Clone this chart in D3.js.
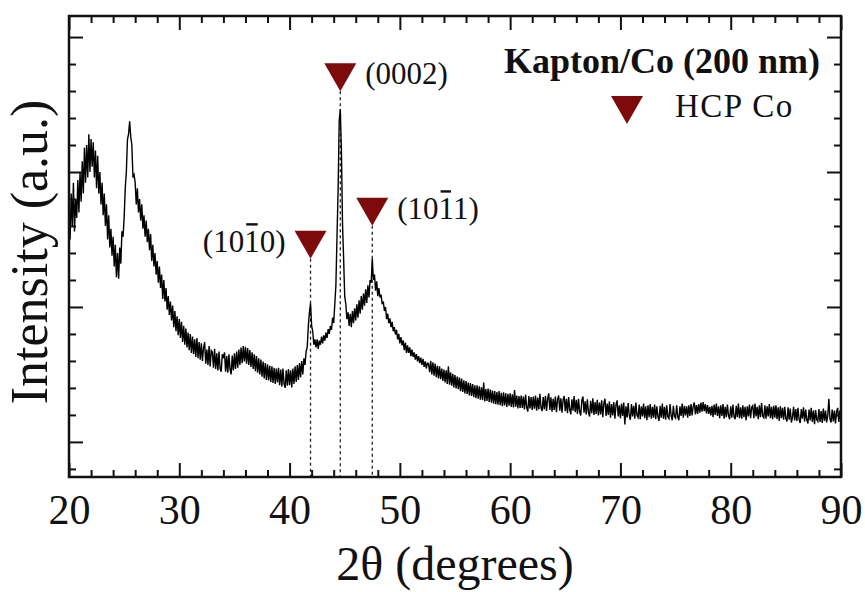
<!DOCTYPE html>
<html>
<head>
<meta charset="utf-8">
<script src="https://cdn.jsdelivr.net/npm/d3@7"></script>
<style>
  body { margin: 0; background: #fff; }
  svg { display: block; }
  text { font-family: "Liberation Serif", "Times New Roman", serif; fill: #111; }
</style>
</head>
<body>
<svg id="chart" width="865" height="592"></svg>
<script>
// XRD scan of Kapton/Co (200 nm): 2θ from 20° to 90° in 0.1° steps
const thetaStart = 20;
const thetaStep = 0.1;
const intensity = [
  1380, 1250, 1420, 1300, 1460, 1280, 1400, 1330, 1470, 1350,
  1500, 1390, 1540, 1420, 1590, 1460, 1600, 1480, 1640, 1500,
  1622, 1520, 1610, 1480, 1580, 1440, 1560, 1420, 1500, 1380,
  1460, 1340, 1420, 1300, 1380, 1250, 1340, 1220, 1290, 1190,
  1260, 1150, 1230, 1110, 1200, 1105, 1220, 1160, 1280, 1260,
  1330, 1440, 1500, 1620, 1640, 1688, 1630, 1600, 1480, 1490,
  1460, 1380, 1440, 1350, 1400, 1320, 1380, 1290, 1340, 1260,
  1320, 1240, 1290, 1210, 1270, 1170, 1230, 1150, 1200, 1120,
  1170, 1090, 1150, 1070, 1120, 1030, 1100, 1020, 1070, 990,
  1040, 970, 1020, 950, 1005, 925, 985, 910, 965, 895,
  955, 885, 945, 870, 930, 860, 920, 850, 905, 840,
  900, 830, 890, 825, 880, 815, 885, 810, 870, 805,
  865, 800, 848, 870, 790, 842, 785, 855, 780, 838,
  832, 775, 845, 770, 828, 765, 835, 772, 760, 825,
  810, 832, 760, 818, 756, 825, 770, 750, 820, 765,
  828, 770, 835, 775, 842, 785, 850, 792, 855, 798,
  852, 790, 848, 785, 840, 778, 832, 770, 825, 762,
  818, 756, 810, 750, 805, 742, 798, 735, 792, 730,
  788, 728, 782, 722, 780, 718, 775, 715, 772, 720,
  775, 710, 768, 705, 772, 715, 700, 765, 708, 770,
  710, 765, 702, 772, 715, 780, 722, 785, 730, 792,
  740, 800, 750, 810, 785, 835, 850, 930, 980, 1013,
  930, 910, 860, 880, 850, 880, 845, 875, 860, 890,
  865, 895, 875, 905, 885, 918, 900, 930, 915, 960,
  940, 1010, 1080, 1260, 1430, 1690, 1732, 1580, 1310, 1180,
  1040, 1010, 955, 980, 930, 975, 925, 985, 940, 995,
  950, 1010, 960, 1025, 975, 1040, 990, 1050, 1005, 1065,
  1015, 1080, 1035, 1100, 1090, 1179, 1100, 1120, 1060, 1095,
  1040, 1070, 1035, 1045, 1010, 1020, 985, 1000, 955, 975,
  940, 958, 925, 945, 910, 925, 898, 915, 880, 900,
  865, 888, 858, 876, 840, 868, 830, 858, 830, 850,
  818, 842, 815, 832, 805, 825, 798, 818, 792, 812,
  785, 808, 778, 798, 772, 792, 790, 758, 800, 750,
  795, 745, 790, 740, 782, 735, 780, 732, 772, 726,
  768, 720, 765, 715, 780, 712, 758, 708, 752, 702,
  748, 698, 742, 695, 738, 688, 735, 685, 728, 680,
  725, 678, 720, 672, 718, 670, 714, 666, 710, 662,
  710, 660, 706, 656, 702, 655, 720, 650, 696, 652,
  698, 648, 694, 645, 690, 642, 688, 640, 685, 638,
  688, 636, 682, 632, 684, 635, 680, 630, 678, 634,
  680, 630, 676, 628, 692, 630, 672, 624, 670, 626,
  672, 626, 668, 620, 675, 628, 612, 670, 624, 666,
  618, 668, 623, 672, 616, 664, 620, 678, 626, 614,
  666, 620, 670, 615, 660, 680, 618, 665, 612, 660,
  618, 668, 610, 658, 672, 616, 662, 608, 656, 670,
  614, 660, 606, 666, 620, 602, 658, 616, 670, 610,
  656, 604, 660, 612, 598, 654, 668, 608, 650, 602,
  658, 610, 594, 652, 606, 662, 600, 648, 604, 656,
  598, 646, 602, 654, 592, 644, 660, 596, 642, 600,
  650, 590, 640, 598, 648, 586, 638, 654, 594, 636,
  588, 642, 596, 646, 565, 632, 590, 644, 598, 582,
  640, 594, 634, 586, 646, 598, 590, 638, 584, 632,
  594, 642, 588, 632, 580, 636, 592, 640, 586, 630,
  590, 638, 584, 632, 594, 578, 634, 590, 642, 586,
  630, 582, 636, 592, 586, 640, 596, 580, 634, 594,
  588, 636, 592, 580, 632, 596, 642, 590, 634, 598,
  632, 590, 636, 596, 640, 598, 632, 646, 602, 636,
  604, 640, 608, 646, 612, 648, 614, 640, 606, 636,
  604, 630, 598, 634, 592, 638, 600, 642, 596, 632,
  588, 636, 596, 640, 586, 630, 592, 638, 598, 584,
  632, 590, 638, 594, 584, 634, 592, 642, 588, 628,
  586, 636, 592, 630, 580, 632, 594, 638, 588, 628,
  634, 588, 642, 594, 630, 584, 636, 592, 644, 596,
  590, 636, 586, 632, 594, 640, 588, 630, 584, 634,
  590, 636, 584, 628, 578, 632, 588, 626, 582, 630,
  586, 576, 628, 582, 624, 572, 590, 630, 580, 622,
  578, 626, 584, 570, 622, 586, 628, 576, 620, 582,
  568, 620, 580, 626, 574, 616, 566, 618, 582, 576,
  622, 574, 614, 570, 624, 578, 616, 572, 598, 660,
  584, 572, 620, 576, 616, 568, 612, 626, 574, 616,
  580
];

// Axis ticks
const xMajorTicks = [20, 30, 40, 50, 60, 70, 80, 90];
const xMinorTicks = [22, 24, 26, 28, 32, 34, 36, 38, 42, 44, 46, 48, 52, 54, 56, 58,
                     62, 64, 66, 68, 72, 74, 76, 78, 82, 84, 86, 88];
const yMajorTicks = [500, 1000, 1500, 2000];
const yMinorTicks = [400, 600, 700, 800, 900, 1100, 1200, 1300, 1400,
                     1600, 1700, 1800, 1900];

// HCP Co reflections: position, marker level, Miller–Bravais label
const peakTheta = [41.9, 44.6, 47.5];
const peakLevel = [1179, 1799, 1301];
const peakLabel = ["(1010)", "(0002)", "(1011)"];
const peakBarChar = [3, -1, 3];          // index of the character carrying the overbar
const peakLabelSide = ["left", "right", "right"];

const sampleTitle = "Kapton/Co (200 nm)";
const phaseName = "HCP Co";
const xTitle = "2θ (degrees)";
const yTitle = "Intensity (a.u.)";

const markerColor = "#7d0b0b";
const inkColor = "#111";

const svg = d3.select("#chart");
const plot = { left: 69, right: 841, top: 16, bottom: 477 };

const x = d3.scaleLinear().domain([20, 90]).range([plot.left, plot.right]);
const y = d3.scaleLinear().domain([370, 2078]).range([plot.bottom, plot.top]);

const peaks = peakTheta.map((t, i) => ({ t, level: peakLevel[i], label: peakLabel[i],
  bar: peakBarChar[i], side: peakLabelSide[i] }));

// Dashed guides from each marker down to the axis
svg.append("g").selectAll("line").data(peaks).join("line")
  .attr("x1", d => x(d.t)).attr("x2", d => x(d.t))
  .attr("y1", d => y(d.level)).attr("y2", plot.bottom)
  .attr("stroke", "#222").attr("stroke-width", 1.3)
  .attr("stroke-dasharray", "3,3");

// Diffraction pattern
const line = d3.line()
  .x((d, i) => x(thetaStart + i * thetaStep))
  .y(d => y(d));
svg.append("path").datum(intensity)
  .attr("d", line)
  .attr("fill", "none")
  .attr("stroke", "#000")
  .attr("stroke-width", 1.4)
  .attr("stroke-linejoin", "miter");

// Axes: ticks point inward on all four sides
function styleAxis(g) {
  g.select(".domain").remove();
  g.selectAll(".tick line").attr("stroke", inkColor).attr("stroke-width", 2);
}

svg.append("g").attr("transform", `translate(0,${plot.bottom})`)
  .call(d3.axisBottom(x).tickValues(xMinorTicks).tickSize(-7).tickFormat(""))
  .call(styleAxis);
const gxMajor = svg.append("g").attr("transform", `translate(0,${plot.bottom})`)
  .call(d3.axisBottom(x).tickValues(xMajorTicks).tickSize(-14).tickFormat(d3.format("d")))
  .call(styleAxis);
gxMajor.selectAll(".tick text")
  .attr("y", 47).attr("dy", 0)
  .attr("font-size", 42).attr("fill", inkColor)
  .attr("font-family", "'Liberation Serif', 'Times New Roman', serif");

svg.append("g").attr("transform", `translate(0,${plot.top})`)
  .call(d3.axisTop(x).tickValues(xMinorTicks).tickSize(-7).tickFormat(""))
  .call(styleAxis);
svg.append("g").attr("transform", `translate(0,${plot.top})`)
  .call(d3.axisTop(x).tickValues(xMajorTicks).tickSize(-14).tickFormat(""))
  .call(styleAxis);

[[d3.axisLeft, plot.left], [d3.axisRight, plot.right]].forEach(([axisFn, px]) => {
  svg.append("g").attr("transform", `translate(${px},0)`)
    .call(axisFn(y).tickValues(yMinorTicks).tickSize(-7).tickFormat(""))
    .call(styleAxis);
  svg.append("g").attr("transform", `translate(${px},0)`)
    .call(axisFn(y).tickValues(yMajorTicks).tickSize(-14).tickFormat(""))
    .call(styleAxis);
});

// Plot frame
svg.append("rect")
  .attr("x", plot.left).attr("y", plot.top)
  .attr("width", plot.right - plot.left).attr("height", plot.bottom - plot.top)
  .attr("fill", "none").attr("stroke", inkColor).attr("stroke-width", 2.5);

// Downward triangle with its tip at the origin
const triangle = "M-16,-28L16,-28L0,0Z";

svg.append("g").selectAll("path").data(peaks).join("path")
  .attr("d", triangle)
  .attr("transform", d => `translate(${x(d.t)},${y(d.level)})`)
  .attr("fill", markerColor);

// Reflection labels, with an overbar on the negative index
const labelSize = 31;
peaks.forEach(d => {
  const px = x(d.t), py = y(d.level) - 7;
  const t = svg.append("text")
    .attr("x", d.side === "left" ? px - 25 : px + 25)
    .attr("y", py)
    .attr("text-anchor", d.side === "left" ? "end" : "start")
    .attr("font-size", labelSize)
    .text(d.label);
  if (d.bar >= 0) {
    const node = t.node();
    const start = node.getStartPositionOfChar(d.bar);
    const end = node.getEndPositionOfChar(d.bar);
    svg.append("line")
      .attr("x1", start.x + 2).attr("x2", end.x - 2)
      .attr("y1", py - labelSize * 0.88).attr("y2", py - labelSize * 0.88)
      .attr("stroke", inkColor).attr("stroke-width", 2.4);
  }
});

// Legend
svg.append("text")
  .attr("x", 820).attr("y", 73)
  .attr("text-anchor", "end")
  .attr("font-size", 36).attr("font-weight", "bold")
  .text(sampleTitle);
svg.append("path")
  .attr("d", triangle)
  .attr("transform", "translate(627,124)")
  .attr("fill", markerColor);
svg.append("text")
  .attr("x", 675).attr("y", 117)
  .attr("font-size", 33).attr("letter-spacing", 1.5)
  .text(phaseName);

// Axis titles
svg.append("text")
  .attr("x", (plot.left + plot.right) / 2).attr("y", 580)
  .attr("text-anchor", "middle")
  .attr("font-size", 48)
  .text(xTitle);
svg.append("text")
  .attr("transform", `translate(47,252) rotate(-90)`)
  .attr("text-anchor", "middle")
  .attr("font-size", 52)
  .text(yTitle);
</script>
</body>
</html>
